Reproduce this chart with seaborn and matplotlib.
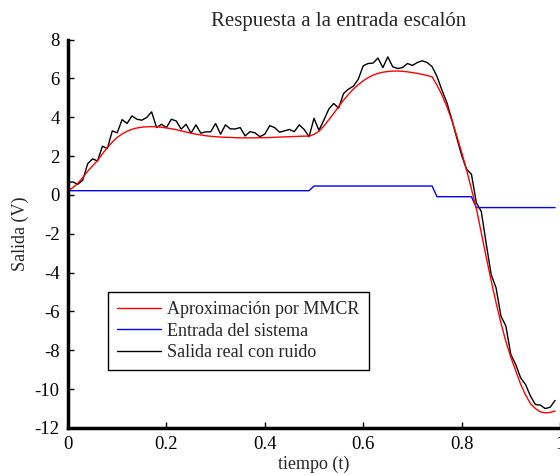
import numpy as np
import pandas as pd
import matplotlib
matplotlib.use("Agg")
import matplotlib.pyplot as plt
import seaborn as sns

# ---------------- data ----------------
t = [round(i * 0.01, 2) for i in range(100)]

aproximacion = [
    0.22, 0.38, 0.60, 0.90, 1.22, 1.50, 1.77, 2.12, 2.44, 2.72,
    2.97, 3.14, 3.28, 3.38, 3.45, 3.49, 3.51, 3.52, 3.51, 3.49,
    3.45, 3.41, 3.36, 3.30, 3.24, 3.18, 3.13, 3.09, 3.05, 3.02,
    3.00, 2.98, 2.97, 2.96, 2.95, 2.94, 2.94, 2.94, 2.94, 2.95,
    2.95, 2.96, 2.97, 2.98, 2.99, 3.00, 3.01, 3.02, 3.03, 3.03,
    3.12, 3.28, 3.55, 3.87, 4.20, 4.55, 4.88, 5.18, 5.45, 5.68,
    5.88, 6.04, 6.17, 6.26, 6.32, 6.36, 6.38, 6.38, 6.37, 6.34,
    6.30, 6.26, 6.21, 6.15, 6.08, 5.65, 5.15, 4.55, 3.85, 3.05,
    2.20, 1.30, 0.30, -0.70, -1.95, -3.20, -4.40, -5.55, -6.60, -7.55,
    -8.35, -9.05, -9.75, -10.30, -10.75, -11.00, -11.17, -11.22, -11.20, -11.12,
]

entrada = [0.22] * 50 + [0.46] * 25 + [-0.09] * 8 + [-0.65] * 17

salida = [
    0.65, 0.67, 0.55, 0.76, 1.61, 1.86, 1.75, 2.51, 2.39, 3.30,
    3.20, 3.88, 3.68, 4.07, 3.90, 3.85, 3.99, 4.28, 3.47, 3.64,
    3.47, 3.90, 3.81, 3.39, 3.64, 3.18, 3.61, 3.18, 3.25, 3.25,
    3.68, 3.13, 3.61, 3.40, 3.40, 3.47, 3.04, 3.26, 3.20, 3.00,
    3.13, 3.57, 3.47, 3.23, 3.30, 3.37, 3.26, 3.61, 3.37, 3.00,
    3.95, 3.33, 3.85, 4.42, 4.71, 4.47, 5.22, 5.45, 5.60, 5.96,
    6.65, 6.77, 6.79, 7.05, 6.56, 7.11, 6.60, 6.51, 6.56, 6.77,
    6.67, 6.82, 6.91, 6.82, 6.61, 6.10, 5.40, 4.76, 3.90, 2.95,
    2.05, 1.32, 1.07, -0.40, -0.85, -2.50, -4.09, -4.78, -6.24, -6.75,
    -8.21, -8.73, -9.42, -9.76, -10.36, -10.79, -10.82, -11.00, -10.93, -10.58,
]

x_ticks = [0, 0.2, 0.4, 0.6, 0.8, 1]
x_tick_labels = ["0", "0.2", "0.4", "0.6", "0.8", "1"]
y_ticks = [-12, -10, -8, -6, -4, -2, 0, 2, 4, 6, 8]
y_tick_labels = ["-12", "-10", "-8", "-6", "-4", "-2", "0", "2", "4", "6", "8"]

lbl_aprox = "Aproximación por MMCR"
lbl_entrada = "Entrada del sistema"
lbl_salida = "Salida real con ruido"

# ---------------- figure ----------------
sns.set_style("white")
plt.rcParams["font.family"] = ["Liberation Serif", "DejaVu Serif"]
plt.rcParams["axes.unicode_minus"] = False

fig = plt.figure(figsize=(5.6, 4.75), dpi=100)
ax = fig.add_axes([68 / 560, 1 - 428 / 475, 492 / 560, (428 - 39.6) / 475])

df_s = pd.DataFrame({"t": t, "v": salida})
df_e = pd.DataFrame({"t": t, "v": entrada})
df_a = pd.DataFrame({"t": t, "v": aproximacion})

sns.lineplot(data=df_s, x="t", y="v", ax=ax, color="black", lw=1.0, label=lbl_salida)
sns.lineplot(data=df_e, x="t", y="v", ax=ax, color="#0000ff", lw=1.0, label=lbl_entrada)
sns.lineplot(data=df_a, x="t", y="v", ax=ax, color="#ff0000", lw=1.0, label=lbl_aprox)

ax.set_xlim(0, 1)
ax.set_ylim(-12, 8)
ax.set_xticks(x_ticks)
ax.set_xticklabels(x_tick_labels)
ax.set_yticks(y_ticks)
ax.set_yticklabels(y_tick_labels)
ax.tick_params(direction="in", length=4, width=1, labelsize=13.5, pad=6,
               top=False, right=False, bottom=True, left=True, colors="black")

for side in ["top", "right"]:
    ax.spines[side].set_visible(False)
for side in ["left", "bottom"]:
    ax.spines[side].set_linewidth(2.5)
    ax.spines[side].set_color("black")

ax.set_xlabel("tiempo (t)", fontsize=13, labelpad=2)
ax.set_ylabel("Salida (V)", fontsize=13, labelpad=4)
ax.set_title("Respuesta a la entrada escalón", fontsize=15, x=0.551, pad=10)

handles, labels = ax.get_legend_handles_labels()
order = [labels.index(lbl_aprox), labels.index(lbl_entrada), labels.index(lbl_salida)]
leg = ax.legend([handles[i] for i in order], [labels[i] for i in order],
                loc="lower left", bbox_to_anchor=(0.081, 0.149), borderaxespad=0,
                fontsize=13, frameon=True, fancybox=False, handlelength=2.45,
                handletextpad=0.35, labelspacing=0.25, borderpad=0.5)
leg.get_frame().set_edgecolor("black")
leg.get_frame().set_linewidth(1.0)
leg.get_frame().set_alpha(1)

fig.savefig("out.png", dpi=100)
